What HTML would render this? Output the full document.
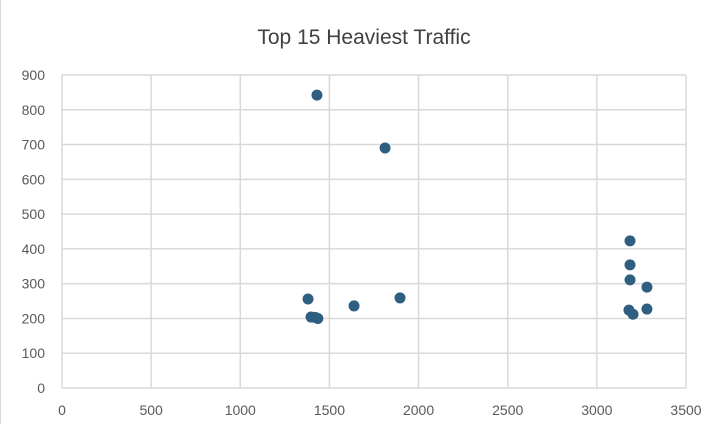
<!DOCTYPE html>
<html><head><meta charset="utf-8"><style>
body{margin:0;background:#fff;font-family:"Liberation Sans",sans-serif;}
svg{display:block}
</style></head><body>
<svg width="726" height="424" id="c">
<rect x="0" y="0" width="726" height="424" fill="#fff"/>
<line x1="0.5" y1="0" x2="0.5" y2="424" stroke="#d9d9d9"/>
<text x="364" y="44" text-anchor="middle" font-size="21" fill="#404040">Top 15 Heaviest Traffic</text>
<g id="grid"></g><g id="ticks"></g><g id="pts"></g>
</svg>
<script>
const xTicks=[0,500,1000,1500,2000,2500,3000,3500];
const yTicks=[0,100,200,300,400,500,600,700,800,900];
const xVals=[1430,1812,1380,1397,1420,1435,1638,1896,3186,3186,3186,3180,3203,3281,3281];
const yVals=[842,690,256,204,203,200,236,259,423,354,311,224,212,290,227];
const X=v=>62+v/3500*624, Y=v=>388-v/900*313;
const ns='http://www.w3.org/2000/svg';
const g=document.getElementById('grid'),t=document.getElementById('ticks'),p=document.getElementById('pts');
function mk(tag,a,par){const e=document.createElementNS(ns,tag);for(const k in a)e.setAttribute(k,a[k]);par.appendChild(e);return e;}
xTicks.forEach(v=>{
 const l=mk('line',{x1:X(v),x2:X(v),y1:Y(900),y2:Y(0),stroke:'#d9d9d9','stroke-width':1.5},g);
 
 
 const s=mk('text',{x:X(v),y:415,'text-anchor':'middle','font-size':14,fill:'#595959'},t);s.textContent=v;
 
 
});
yTicks.forEach(v=>{
 const l=mk('line',{x1:X(0),x2:X(3500),y1:Y(v),y2:Y(v),stroke:'#d9d9d9','stroke-width':1.5},g);
 
 
 const s=mk('text',{x:45,y:Y(v)+5,'text-anchor':'end','font-size':14,fill:'#595959'},t);s.textContent=v;
 
 
});
xVals.forEach((v,i)=>{
 const c=mk('circle',{cx:X(v),cy:Y(yVals[i]),r:5.5,fill:'#2e5f80'},p);
 
 
});
</script>
</body></html>
